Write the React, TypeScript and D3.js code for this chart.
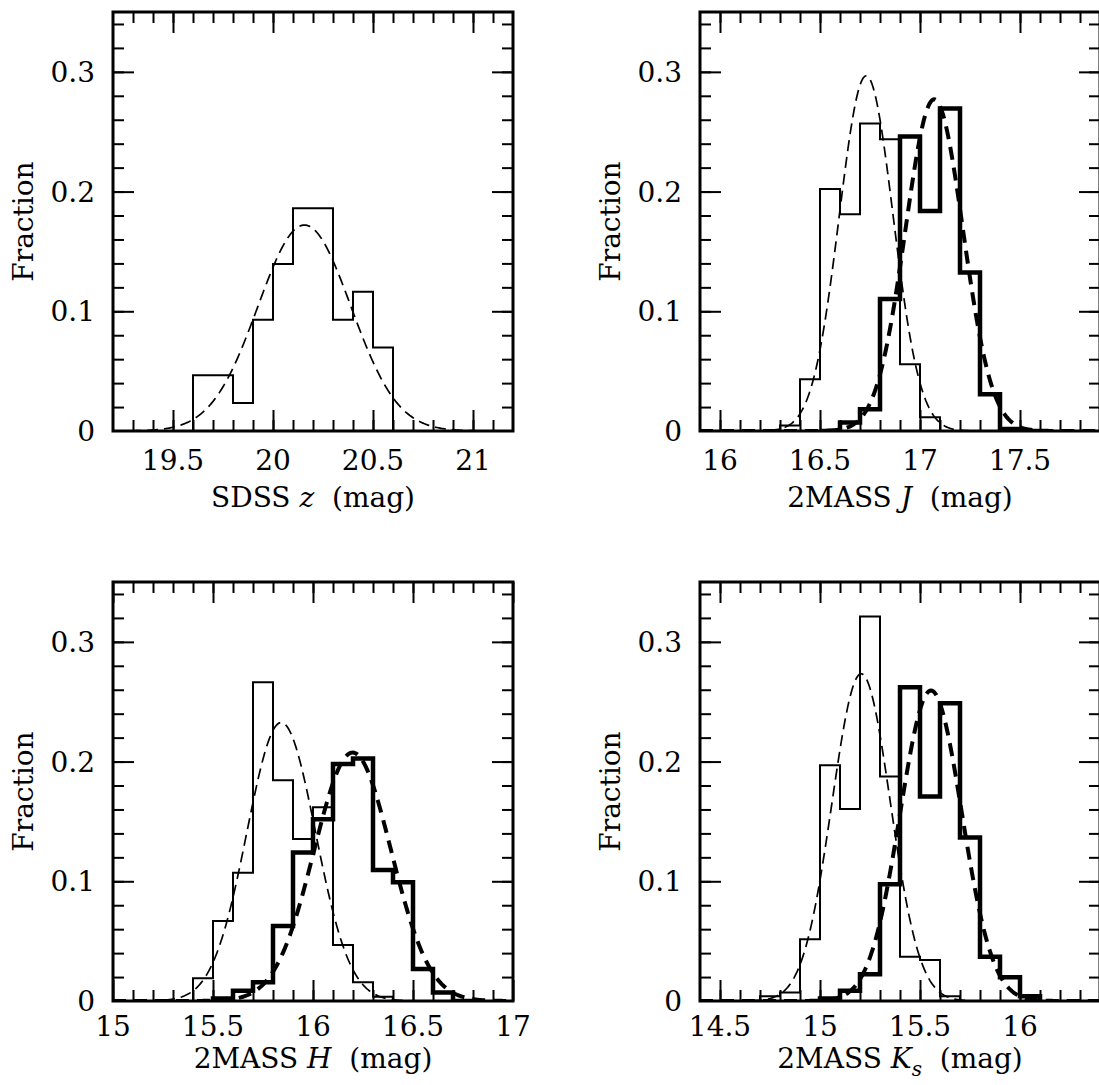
import React, { useEffect, useRef } from 'react';
import * as d3 from 'd3';

// all histograms use 0.1 mag bins
const binWidth = 0.1;

// SDSS z
const zStart = 19.6;
const zFrac = [0.0465, 0.0465, 0.0233, 0.093, 0.1395, 0.186, 0.186, 0.093, 0.1163, 0.0698];
const zFit = [20.157, 0.232, 0.172]; // mean, sigma, peak

// 2MASS J
const jThinStart = 16.3;
const jThinFrac = [0.0045, 0.0432, 0.2022, 0.181, 0.2568, 0.2437, 0.0557, 0.0114];
const jThinFit = [16.731, 0.1345, 0.2967];
const jThickStart = 16.5;
const jThickFrac = [0, 0.007, 0.0181, 0.1103, 0.246, 0.1838, 0.2694, 0.1323, 0.0306, 0.0017, 0];
const jThickFit = [17.071, 0.144, 0.277];

// 2MASS H
const hThinStart = 15.4;
const hThinFrac = [0.0189, 0.0669, 0.1072, 0.2663, 0.1844, 0.1354, 0.1618, 0.0468, 0.0156, 0.0036];
const hThinFit = [15.841, 0.1715, 0.2326];
const hThickStart = 15.5;
const hThickFrac = [0.002, 0.0086, 0.0156, 0.0627, 0.124, 0.1518, 0.198, 0.2025, 0.1095, 0.0992, 0.0267, 0.007, 0];
const hThickFit = [16.198, 0.1923, 0.2075];

// 2MASS Ks
const kThinStart = 14.7;
const kThinFrac = [0.004, 0.007, 0.0515, 0.1969, 0.1604, 0.3212, 0.1875, 0.037, 0.0343, 0.004];
const kThinFit = [15.206, 0.146, 0.2733];
const kThickStart = 15.0;
const kThickFrac = [0.002, 0.0086, 0.0223, 0.0975, 0.2621, 0.1708, 0.2487, 0.1365, 0.037, 0.0198, 0.004];
const kThickFit = [15.555, 0.154, 0.2593];

const xDomains = [[19.2, 21.2], [15.9, 17.9], [15, 17], [14.4, 16.4]];
const xMajorTicks = [
  [19.5, 20, 20.5, 21],
  [16, 16.5, 17, 17.5],
  [15, 15.5, 16, 16.5, 17],
  [14.5, 15, 15.5, 16],
];
const yDomain = [0, 0.35];
const yMajorTicks = [0, 0.1, 0.2, 0.3];
// band name and whether it is italic, with optional subscript
const bandNames = [
  { pre: 'SDSS ', band: 'z', sub: '' },
  { pre: '2MASS ', band: 'J', sub: '' },
  { pre: '2MASS ', band: 'H', sub: '' },
  { pre: '2MASS ', band: 'K', sub: 's' },
];

const FONT = 'DejaVu Serif';

export default function App() {
  const svgRef = useRef<SVGSVGElement>(null);

  useEffect(() => {
    const svg = d3.select(svgRef.current);
    svg.selectAll('*').remove();

    const width = 400;
    const height = 419;
    const lefts = [113, 700];
    const tops = [12, 582];

    const panels = [
      { thin: [zStart, zFrac, zFit], thick: null },
      { thin: [jThinStart, jThinFrac, jThinFit], thick: [jThickStart, jThickFrac, jThickFit] },
      { thin: [hThinStart, hThinFrac, hThinFit], thick: [hThickStart, hThickFrac, hThickFit] },
      { thin: [kThinStart, kThinFrac, kThinFit], thick: [kThickStart, kThickFrac, kThickFit] },
    ];

    panels.forEach((p, i) => {
      const row = Math.floor(i / 2);
      const col = i % 2;
      const g = svg.append('g')
        .attr('transform', `translate(${lefts[col]},${tops[row]})`);

      const x = d3.scaleLinear().domain(xDomains[i]).range([0, width]);
      const y = d3.scaleLinear().domain(yDomain).range([height, 0]);

      const clipId = `clip-${i}`;
      g.append('clipPath').attr('id', clipId)
        .append('rect').attr('width', width).attr('height', height);

      const plot = g.append('g').attr('clip-path', `url(#${clipId})`);

      const stepLine = d3.line<[number, number]>()
        .x(d => x(d[0]))
        .y(d => y(d[1]))
        .curve(d3.curveStepAfter);

      const fitLine = d3.line<[number, number]>()
        .x(d => x(d[0]))
        .y(d => y(d[1]))
        .curve(d3.curveLinear);

      const drawHist = (start: number, frac: number[], sw: number) => {
        const pts: [number, number][] = [[start, 0]];
        frac.forEach((v, k) => pts.push([start + k * binWidth, v]));
        pts.push([start + frac.length * binWidth, 0]);
        plot.append('path')
          .attr('d', stepLine(pts))
          .attr('fill', 'none')
          .attr('stroke', '#000')
          .attr('stroke-width', sw)
          .attr('stroke-linejoin', 'miter');
      };

      const drawFit = (fit: number[], sw: number, dash: string) => {
        const [mu, sigma, peak] = fit;
        const [d0, d1] = xDomains[i];
        const pts: [number, number][] = d3.range(d0, d1 + 1e-9, 0.005)
          .map(v => [v, peak * Math.exp(-0.5 * ((v - mu) / sigma) ** 2)]);
        plot.append('path')
          .attr('d', fitLine(pts))
          .attr('fill', 'none')
          .attr('stroke', '#000')
          .attr('stroke-width', sw)
          .attr('stroke-dasharray', dash);
      };

      drawHist(p.thin[0] as number, p.thin[1] as number[], 2);
      drawFit(p.thin[2] as number[], 1.7, '11,6');
      if (p.thick) {
        drawHist(p.thick[0] as number, p.thick[1] as number[], 4.5);
        drawFit(p.thick[2] as number[], 4, '13,8');
      }

      // frame
      g.append('rect')
        .attr('width', width)
        .attr('height', height)
        .attr('fill', 'none')
        .attr('stroke', '#000')
        .attr('stroke-width', 3);

      // ticks on all four sides, pointing inward
      const [d0, d1] = xDomains[i];
      const xMinor = d3.range(Math.round(d0 * 10) + 1, Math.round(d1 * 10)).map(k => k / 10);
      const yMinor = d3.range(1, 18).map(k => k * 0.02);

      const styleTicks = (s: any) => {
        s.select('.domain').remove();
        s.selectAll('line').attr('stroke', '#000').attr('stroke-width', 2);
      };

      const addTicks = (vals: number[], len: number) => {
        g.append('g').attr('transform', `translate(0,${height})`)
          .call(d3.axisBottom(x).tickValues(vals).tickSize(-len).tickFormat(() => ''))
          .call(styleTicks);
        g.append('g')
          .call(d3.axisTop(x).tickValues(vals).tickSize(-len).tickFormat(() => ''))
          .call(styleTicks);
      };
      const addYTicks = (vals: number[], len: number) => {
        g.append('g')
          .call(d3.axisLeft(y).tickValues(vals).tickSize(-len).tickFormat(() => ''))
          .call(styleTicks);
        g.append('g').attr('transform', `translate(${width},0)`)
          .call(d3.axisRight(y).tickValues(vals).tickSize(-len).tickFormat(() => ''))
          .call(styleTicks);
      };
      addTicks(xMinor, 11);
      addTicks(xMajorTicks[i], 21);
      addYTicks(yMinor, 11);
      addYTicks(yMajorTicks.filter(v => v > 0), 21);

      // tick labels
      const tickOff = row === 0 ? 29 : 25;
      g.append('g').selectAll('text')
        .data(xMajorTicks[i])
        .enter()
        .append('text')
        .attr('x', d => x(d))
        .attr('y', height + tickOff)
        .attr('dy', '0.36em')
        .attr('text-anchor', 'middle')
        .attr('font-family', FONT)
        .attr('font-size', 28)
        .text(d => String(d));

      g.append('g').selectAll('text')
        .data(yMajorTicks)
        .enter()
        .append('text')
        .attr('x', -18)
        .attr('y', d => y(d))
        .attr('dy', '0.36em')
        .attr('text-anchor', 'end')
        .attr('font-family', FONT)
        .attr('font-size', 28)
        .text(d => (d === 0 ? '0' : d3.format('.1f')(d)));

      // axis titles
      g.append('text')
        .attr('transform', `translate(-80,${height / 2}) rotate(-90)`)
        .attr('text-anchor', 'middle')
        .attr('font-family', FONT)
        .attr('font-size', 28)
        .text('Fraction');

      const nm = bandNames[i];
      const xl = g.append('text')
        .attr('x', width / 2)
        .attr('y', height + (row === 0 ? 76 : 67))
        .attr('text-anchor', 'middle')
        .attr('font-family', FONT)
        .attr('font-size', 28)
        .style('white-space', 'pre');
      xl.append('tspan').text(nm.pre);
      xl.append('tspan').attr('font-style', 'italic').text(nm.band);
      if (nm.sub) {
        xl.append('tspan').attr('font-style', 'italic').attr('font-size', 20).attr('dy', 8).text(nm.sub);
        xl.append('tspan').attr('dy', -8).text('  (mag)');
      } else {
        xl.append('tspan').text('  (mag)');
      }
    });
  }, []);

  return (
    <svg
      ref={svgRef}
      width={1099}
      height={1085}
      viewBox="0 0 1099 1085"
      style={{ position: 'absolute', left: 0, top: 0, background: 'white' }}
    />
  );
}
